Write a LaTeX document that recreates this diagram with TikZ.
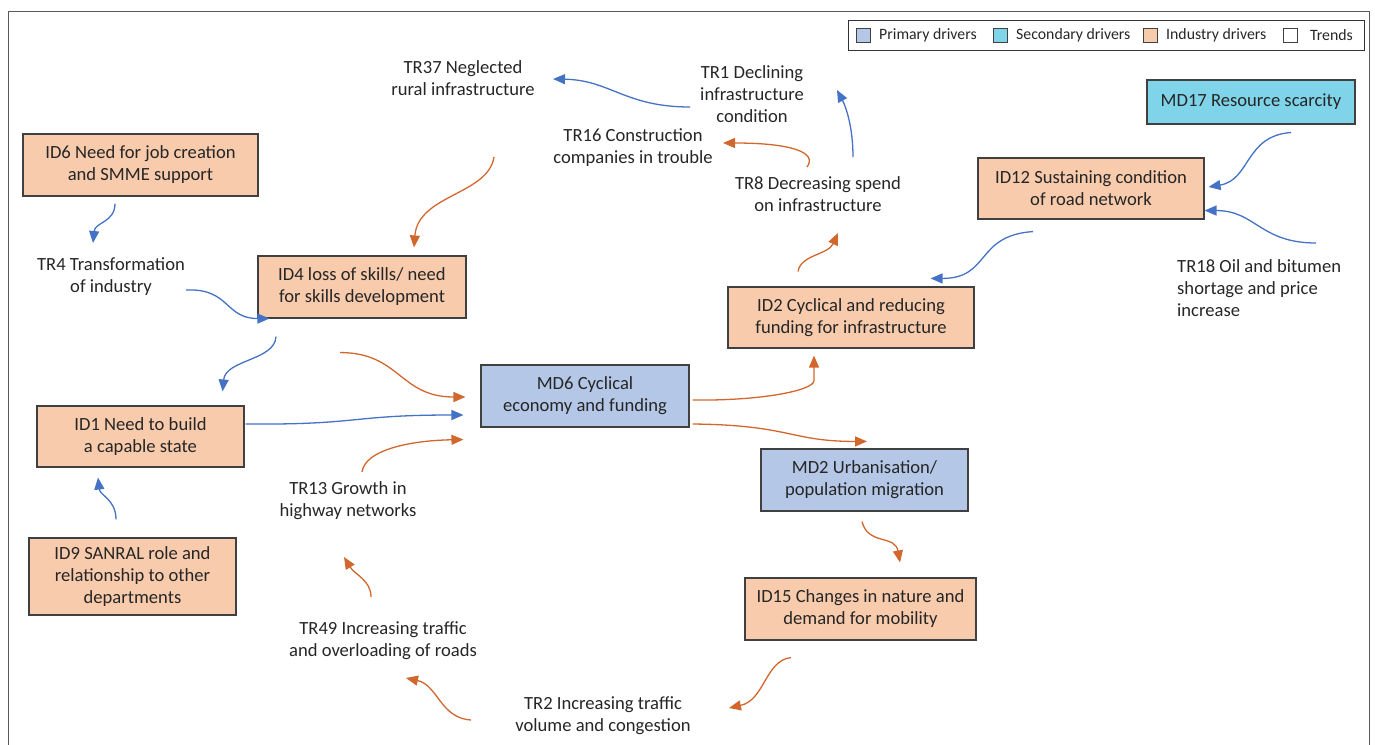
\documentclass[tikz,border=0pt]{standalone}
\usepackage{fontspec}
\setmainfont{Carlito}
\usetikzlibrary{arrows.meta,calc}
\definecolor{inkc}{HTML}{262626}
\definecolor{edgec}{HTML}{404040}
\definecolor{primfill}{HTML}{B4C7E7}
\definecolor{secfill}{HTML}{7FD4EA}
\definecolor{indfill}{HTML}{F8CBAD}
\definecolor{bluel}{HTML}{4472C4}
\definecolor{orangel}{HTML}{D2672E}
\begin{document}
\begin{tikzpicture}[x=1pt,y=-1pt,
  every node/.style={text=inkc,font=\fontsize{18.6}{22}\selectfont},
  box/.style={draw=edgec,line width=1.1pt,align=center,inner sep=0pt},
  prim/.style={box,fill=primfill},
  sec/.style={box,fill=secfill},
  ind/.style={box,fill=indfill},
  trend/.style={align=center,inner sep=0pt},
  blink/.style={draw=bluel,line width=1.3pt,-{Triangle[length=12pt,width=10pt]}},
  olink/.style={draw=orangel,line width=1.3pt,-{Triangle[length=12pt,width=10pt]}},
  swatch/.style={draw=edgec,line width=0.9pt,minimum width=14pt,minimum height=14pt,inner sep=0pt},
  legtext/.style={anchor=west,inner sep=0pt,font=\fontsize{15.8}{17}\selectfont}
]
\useasboundingbox (0,0) rectangle (1375,744);
% outer frame
\draw[draw=black!65,line width=1pt] (8,11) rectangle (1369,770);

% legend
\node[draw=black!80,line width=1pt,minimum width=516pt,minimum height=30pt,inner sep=0pt] (legend) at (1106,35) {};
\node[swatch,fill=primfill] (sw1) at (863,35) {};
\node[legtext] (lg1) at (879,35) {Primary drivers};
\node[swatch,fill=secfill] (sw2) at (1000,35) {};
\node[legtext] (lg2) at (1016,35) {Secondary drivers};
\node[swatch,fill=indfill] (sw3) at (1150,35) {};
\node[legtext] (lg3) at (1166,35) {Industry drivers};
\node[swatch,fill=white] (sw4) at (1290,35) {};
\node[legtext] (lg4) at (1310,35) {Trends};

% driver boxes
\node[ind,minimum width=235pt,minimum height=62pt] (ID6) at (140.5,165) {ID6 Need for job creation\\and SMME support};
\node[ind,minimum width=208pt,minimum height=62pt] (ID4) at (362,287) {ID4 loss of skills/ need\\for skills development};
\node[ind,minimum width=207pt,minimum height=61pt] (ID1) at (140.5,436.5) {ID1 Need to build\\a capable state};
\node[ind,minimum width=207pt,minimum height=77pt] (ID9) at (132.5,576.5) {ID9 SANRAL role and\\relationship to other\\departments};
\node[prim,minimum width=208pt,minimum height=62pt] (MD6) at (585,396) {MD6 Cyclical\\economy and funding};
\node[ind,minimum width=246pt,minimum height=61pt] (ID2) at (851,317.5) {ID2 Cyclical and reducing\\funding for infrastructure};
\node[ind,minimum width=226pt,minimum height=61pt] (ID12) at (1091,188.5) {ID12 Sustaining condition\\of road network};
\node[sec,minimum width=208pt,minimum height=44pt] (MD17) at (1251,102) {MD17 Resource scarcity};
\node[prim,minimum width=207pt,minimum height=62pt] (MD2) at (864.5,480) {MD2 Urbanisation/\\population migration};
\node[ind,minimum width=231pt,minimum height=62pt] (ID15) at (860.5,609) {ID15 Changes in nature and\\demand for mobility};

% trends
\node[trend] (TR37) at (463,78) {TR37 Neglected\\rural infrastructure};
\node[trend] (TR1) at (752,94) {TR1 Declining\\infrastructure\\condition};
\node[trend] (TR16) at (633,148) {TR16 Construction\\companies in trouble};
\node[trend] (TR8) at (818,194) {TR8 Decreasing spend\\on infrastructure};
\node[trend] (TR4) at (111,277) {TR4 Transformation\\of industry};
\node[trend,align=left,anchor=west] (TR18) at (1177,288) {TR18 Oil and bitumen\\shortage and price\\increase};
\node[trend] (TR13) at (348,501) {TR13 Growth in\\highway networks};
\node[trend] (TR49) at (383,641) {TR49 Increasing traffic\\and overloading of roads};
\node[trend] (TR2) at (603,716) {TR2 Increasing traffic\\volume and congestion};

% blue links
\draw[blink] ($(ID6.south)+(-25.5,7)$) .. controls +(0,19) and +(2,-21) .. ($(TR4)+(-18,-34)$);
\draw[blink] ($(TR4)+(75,13)$) .. controls +(44,-2) and +(-45,0) .. ($(ID4.south west)+(12,0)$);
\draw[blink] ($(TR1)+(-62,13)$) .. controls +(-65,0) and +(57,1) .. ($(TR37)+(90,1)$);
\draw[blink] ($(TR8)+(35,-37)$) .. controls +(0,-32) and +(8,15) .. ($(TR1)+(85,-4)$);
\draw[blink] ($(ID12.south)+(-58,12)$) .. controls +(-58,4) and +(60,0) .. ($(ID2.north east)+(-44,-8)$);
\draw[blink] ($(MD17.south)+(40,8)$) .. controls +(-46,3) and +(42,-7) .. ($(ID12.east)+(4,-1.5)$);
\draw[blink] ($(TR18.west)+(139,-45)$) .. controls +(-56,0) and +(51,0) .. ($(ID12.south east)+(0,-9)$);
\draw[blink] ($(ID4.south)+(-86,18)$) .. controls +(-1,24) and +(3,-32) .. ($(ID1.north east)+(-22,-14)$);
\draw[blink] ($(ID1.east)+(1,-12.5)$) .. controls +(115,1) and +(-114,0) .. ($(MD6.west)+(-17,19)$);
\draw[blink] ($(ID9.north)+(-16.5,-18)$) .. controls +(0,-20) and +(2,18) .. ($(ID1.south)+(-42.5,10)$);

% orange links
\draw[olink] ($(TR37)+(31,79)$) .. controls +(-6,38) and +(4,-53) .. ($(ID4.north)+(52,-8)$);
\draw[olink] ($(TR8)+(-11,-27)$) .. controls +(11,-15) and +(67,0) .. ($(TR16)+(90,-5)$);
\draw[olink] ($(ID2.north)+(-53,-15)$) .. controls +(3,-17) and +(-10,22) .. ($(TR8)+(20,39)$);
\draw[olink] ($(ID4.south)+(-22,34)$) .. controls +(60,0) and +(-66,0) .. ($(MD6.west)+(-15,1)$);
\draw[olink] ($(TR13)+(14,-29)$) .. controls +(3,-22) and +(-54,1) .. ($(MD6.south west)+(-17,12)$);
\draw[olink] ($(TR49)+(-12,-44)$) .. controls +(0,-17) and +(11,18) .. ($(TR13)+(-4,56)$);
\draw[olink] ($(TR2)+(-132,4)$) .. controls +(-31,-2) and +(32,7) .. ($(TR49)+(23,37)$);
\draw[olink] ($(MD6.east)+(3,4)$) .. controls +(68,1) and +(0,10) .. ($(ID2.south)+(-37,32)$) -- ($(ID2.south)+(-37,7)$);
\draw[olink] ($(MD6.east)+(3,28)$) .. controls +(98,1) and +(-77,0) .. ($(MD2.north)+(2.5,-7)$);
\draw[olink] ($(MD2.south)+(-2.5,10)$) .. controls +(6,24) and +(-5,-28) .. ($(ID15.north)+(39.5,-15)$);
\draw[olink] ($(ID15.south)+(-69.5,17)$) .. controls +(-26,3) and +(36,-8) .. ($(TR2)+(126,-8)$);
\end{tikzpicture}
\end{document}
